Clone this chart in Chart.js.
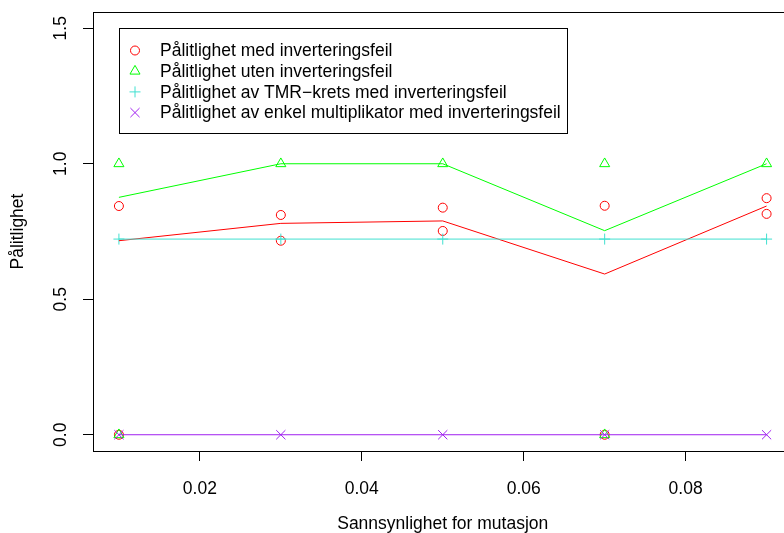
<!DOCTYPE html>
<html lang="no">
<head>
    <meta charset="UTF-8">
    <title>Pålitlighet</title>
    <script src="https://cdn.jsdelivr.net/npm/chart.js"></script>
    <style>
        body {
            margin: 0;
            padding: 0;
            background-color: #ffffff;
            overflow: hidden;
        }
        #chart {
            display: block;
        }
    </style>
</head>
<body>
    <canvas id="chart" width="800" height="533"></canvas>

    <script>
        // x positions (mutation probability)
        const xSteps = [0.01, 0.03, 0.05, 0.07, 0.09];

        // Pålitlighet med inverteringsfeil (points)
        const medX = [0.01, 0.01, 0.03, 0.03, 0.05, 0.05, 0.07, 0.07, 0.09, 0.09];
        const medY = [0.844, 0, 0.811, 0.716, 0.838, 0.752, 0.845, 0, 0.873, 0.815];
        const medLine = [0.716, 0.780, 0.789, 0.593, 0.844];

        // Pålitlighet uten inverteringsfeil
        const utenX = [0.01, 0.01, 0.03, 0.05, 0.07, 0.07, 0.09];
        const utenY = [1, 0, 1, 1, 1, 0, 1];
        const utenLine = [0.876, 1, 1, 0.753, 1];

        // TMR-krets
        const tmrY = [0.722, 0.722, 0.722, 0.722, 0.722];
        const tmrLine = [0.722, 0.722, 0.722, 0.722, 0.722];

        // enkel multiplikator
        const enkelY = [0, 0, 0, 0, 0];
        const enkelLine = [0, 0, 0, 0, 0];

        const xTicks = [0.02, 0.04, 0.06, 0.08];
        const yTicks = [0, 0.5, 1, 1.5];

        const labels = [
            'Pålitlighet med inverteringsfeil',
            'Pålitlighet uten inverteringsfeil',
            'Pålitlighet av TMR\u2212krets med inverteringsfeil',
            'Pålitlighet av enkel multiplikator med inverteringsfeil'
        ];

        const RED = '#ff0000', GREEN = '#00ff00', CYAN = '#40e0d0', PURPLE = '#a020f0';
        const FONT = { family: '"Liberation Sans", Arial, sans-serif', size: 17.5 };

        const pairs = (xs, ys) => xs.map((x, i) => ({ x: x, y: ys[i] }));

        function pointSet(label, xs, ys, color, style, radius, order) {
            return {
                label: label, data: pairs(xs, ys), showLine: false,
                pointStyle: style, pointRadius: radius, pointHoverRadius: radius,
                borderColor: color, backgroundColor: 'rgba(0,0,0,0)',
                pointBorderWidth: 1, order: order, isLegend: true
            };
        }
        function lineSet(ys, color, order) {
            return {
                data: pairs(xSteps, ys), showLine: true, pointRadius: 0,
                borderColor: color, borderWidth: 1, fill: false, order: order
            };
        }

        // plot box + legend in the R style
        const boxPlugin = {
            id: 'rbox',
            afterDraw(chart) {
                const { ctx, chartArea } = chart;
                ctx.save();
                ctx.strokeStyle = '#000';
                ctx.lineWidth = 1;
                ctx.strokeRect(chartArea.left + 0.5, chartArea.top + 0.5,
                    chartArea.right - chartArea.left, chartArea.bottom - chartArea.top);

                // legend
                ctx.strokeRect(119.5, 28.5, 448, 105);
                const items = chart.data.datasets.filter(d => d.isLegend);
                ctx.font = FONT.size + 'px ' + FONT.family;
                ctx.textBaseline = 'middle';
                ctx.textAlign = 'left';
                items.forEach((d, i) => {
                    const y = 50.5 + i * 20.7;
                    ctx.strokeStyle = d.borderColor;
                    ctx.fillStyle = 'rgba(0,0,0,0)';
                    ctx.lineWidth = 1;
                    Chart.helpers.drawPoint(ctx, { pointStyle: d.pointStyle, radius: d.pointRadius, rotation: 0, borderWidth: 1 }, 135, y);
                    ctx.fillStyle = '#000';
                    ctx.fillText(d.label, 160, y + 1);
                });
                ctx.restore();
            }
        };

        const chart = new Chart(document.getElementById('chart'), {
            type: 'scatter',
            data: {
                datasets: [
                    pointSet(labels[0], medX, medY, RED, 'circle', 4.5, 8),
                    pointSet(labels[1], utenX, utenY, GREEN, 'triangle', 5.8, 7),
                    pointSet(labels[2], xSteps, tmrY, CYAN, 'cross', 5.5, 6),
                    pointSet(labels[3], xSteps, enkelY, PURPLE, 'crossRot', 6.5, 5),
                    lineSet(medLine, RED, 4),
                    lineSet(utenLine, GREEN, 3),
                    lineSet(tmrLine, CYAN, 2),
                    lineSet(enkelLine, PURPLE, 1)
                ]
            },
            options: {
                responsive: false,
                animation: false,
                devicePixelRatio: 1,
                layout: { padding: { top: 12, right: 5, left: 0, bottom: 0 } },
                plugins: { legend: { display: false }, tooltip: { enabled: false } },
                scales: {
                    x: {
                        type: 'linear',
                        min: 0.0068,
                        max: 0.0932,
                        afterBuildTicks: s => { s.ticks = xTicks.map(v => ({ value: v })); },
                        afterFit: s => { s.height = 82; s.paddingLeft = 0; s.paddingRight = 0; },
                        grid: { drawOnChartArea: false, drawTicks: true, tickLength: 10, color: '#000' },
                        border: { display: false },
                        ticks: {
                            color: '#000', font: FONT, padding: 18, maxRotation: 0,
                            callback: v => v.toFixed(2)
                        },
                        title: {
                            display: true, text: 'Sannsynlighet for mutasjon', color: '#000',
                            font: FONT, padding: { top: 0, bottom: -2 }
                        }
                    },
                    y: {
                        type: 'linear',
                        min: -0.06,
                        max: 1.56,
                        afterBuildTicks: s => { s.ticks = yTicks.map(v => ({ value: v })); },
                        afterFit: s => { s.width = 93; s.paddingTop = 0; s.paddingBottom = 0; },
                        grid: { drawOnChartArea: false, drawTicks: true, tickLength: 10, color: '#000' },
                        border: { display: false },
                        ticks: {
                            color: '#000', font: FONT, padding: 10,
                            minRotation: 90, maxRotation: 90, crossAlign: 'center',
                            callback: v => v.toFixed(1)
                        },
                        title: {
                            display: true, text: 'Pålitlighet', color: '#000',
                            font: FONT, padding: { top: 8, bottom: 0 }
                        }
                    }
                }
            },
            plugins: [boxPlugin]
        });
    </script>
</body>
</html>
